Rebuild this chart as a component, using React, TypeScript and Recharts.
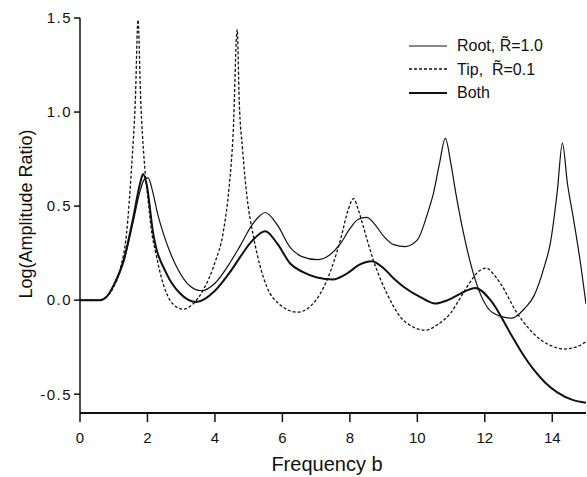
import { LineChart, Line, XAxis, YAxis, Label } from 'recharts';

// [frequency b, log(amplitude ratio)]
const rootPoints = [
  [0, 0], [0.6, 0], [0.8, 0.02], [1.0, 0.08], [1.29, 0.2], [1.58, 0.42], [1.78, 0.58], [1.9, 0.64],
  [2.02, 0.65], [2.15, 0.58], [2.3, 0.46], [2.47, 0.355], [2.87, 0.175], [3.26, 0.075], [3.6, 0.05],
  [4.0, 0.09], [4.45, 0.2], [4.75, 0.29], [5.1, 0.4], [5.34, 0.45], [5.49, 0.466], [5.85, 0.4],
  [6.23, 0.28], [6.6, 0.23], [7.03, 0.215], [7.4, 0.24], [7.72, 0.3], [8.0, 0.38], [8.25, 0.43],
  [8.5, 0.44], [8.75, 0.4], [9.0, 0.34], [9.3, 0.295], [9.65, 0.285], [10.0, 0.32], [10.3, 0.46],
  [10.48, 0.57], [10.65, 0.72], [10.83, 0.86], [11.0, 0.72], [11.13, 0.58], [11.37, 0.355],
  [11.77, 0.08], [12.26, -0.07], [12.8, -0.096], [13.2, -0.04], [13.45, 0.02], [13.75, 0.17],
  [13.95, 0.31], [14.15, 0.58], [14.3, 0.835], [14.45, 0.62], [14.64, 0.42], [14.85, 0.18], [15.0, -0.02],
];

const tipPoints = [
  [0, 0], [0.6, 0], [0.8, 0.02], [1.0, 0.07], [1.2, 0.17], [1.38, 0.355], [1.53, 0.71], [1.64, 1.06],
  [1.72, 1.49], [1.8, 1.06], [1.9, 0.75], [2.02, 0.53], [2.13, 0.355], [2.23, 0.265], [2.46, 0.09],
  [2.75, -0.02], [3.06, -0.048], [3.35, -0.02], [3.65, 0.053], [4.0, 0.2], [4.24, 0.355], [4.42, 0.6],
  [4.54, 0.885], [4.66, 1.44], [4.72, 1.06], [4.82, 0.8], [4.95, 0.55], [5.14, 0.34], [5.34, 0.18],
  [5.54, 0.07], [5.9, -0.02], [6.44, -0.064], [6.9, -0.02], [7.32, 0.106], [7.72, 0.32], [7.95, 0.48],
  [8.11, 0.54], [8.25, 0.48], [8.4, 0.39], [8.7, 0.21], [9.1, 0.035], [9.5, -0.09], [9.85, -0.14],
  [10.24, -0.16], [10.6, -0.13], [10.98, -0.07], [11.3, 0.02], [11.57, 0.097], [11.8, 0.15],
  [12.05, 0.17], [12.25, 0.14], [12.46, 0.09], [12.96, -0.07], [13.3, -0.15], [13.65, -0.21],
  [14.0, -0.245], [14.33, -0.26], [14.7, -0.25], [15.0, -0.22],
];

const bothPoints = [
  [0, 0], [0.6, 0], [0.8, 0.02], [1.0, 0.08], [1.29, 0.21], [1.58, 0.44], [1.78, 0.62], [1.87, 0.67],
  [1.97, 0.62], [2.17, 0.355], [2.57, 0.14], [2.97, 0.035], [3.45, -0.01], [4.0, 0.05], [4.45, 0.15],
  [4.75, 0.23], [5.1, 0.315], [5.49, 0.366], [5.85, 0.3], [6.23, 0.195], [6.6, 0.15], [7.03, 0.12],
  [7.5, 0.11], [7.9, 0.14], [8.3, 0.19], [8.65, 0.207], [9.0, 0.17], [9.3, 0.115], [9.6, 0.07],
  [10.09, 0.016], [10.53, -0.018], [10.9, 0.0], [11.28, 0.035], [11.72, 0.065], [12.17, 0.0],
  [12.76, -0.177], [13.1, -0.28], [13.45, -0.37], [13.8, -0.44], [14.15, -0.49], [14.6, -0.53], [15.0, -0.545],
];

const xTicks = [0, 2, 4, 6, 8, 10, 12, 14];
const yTicks = [-0.5, 0, 0.5, 1.0, 1.5];

const series = [
  { name: 'Root, R\u0303=1.0', points: rootPoints, width: 1.2, dash: undefined },
  { name: 'Tip,  R\u0303=0.1', points: tipPoints, width: 1.3, dash: '3 2' },
  { name: 'Both', points: bothPoints, width: 2, dash: undefined },
];

const font = '"Liberation Sans", Arial, Helvetica, sans-serif';
const ink = '#111';

const toRows = (pts: number[][]) => pts.map(([x, y]) => ({ x, y }));

export default function App() {
  return (
    <div style={{ position: 'absolute', left: 0, top: 0, width: 587, height: 477, background: '#fff', fontFamily: font }}>
      <LineChart width={587} height={477} margin={{ top: 18, right: 1, bottom: 0, left: 0 }}>
        <XAxis
          type="number"
          dataKey="x"
          domain={[0, 15]}
          ticks={xTicks}
          allowDataOverflow
          height={64}
          axisLine={{ stroke: ink, strokeWidth: 2 }}
          tickLine={{ stroke: ink, strokeWidth: 1.5 }}
          tickSize={9}
          tickMargin={10}
          tick={{ fontSize: 15, fill: ink, fontFamily: font }}
        >
          <Label value="Frequency b" position="insideBottom" offset={6} dx={-6}
            style={{ fontSize: 20, fill: ink, fontFamily: font }} />
        </XAxis>
        <YAxis
          type="number"
          domain={[-0.6, 1.5]}
          ticks={yTicks}
          allowDataOverflow
          width={80}
          axisLine={{ stroke: ink, strokeWidth: 1.5 }}
          tickLine={{ stroke: ink, strokeWidth: 1.5 }}
          tickSize={6}
          tickMargin={2}
          tickFormatter={(v: number) => v.toFixed(1)}
          tick={{ fontSize: 15, fill: ink, fontFamily: font, letterSpacing: 1.5 }}
        >
          <Label
            content={() => (
              <text x={26} y={214} transform="rotate(-90 26 214)" textAnchor="middle"
                dominantBaseline="central" fontSize={18} fill={ink} fontFamily={font}>
                Log(Amplitude Ratio)
              </text>
            )}
          />
        </YAxis>
        {series.map((s) => (
          <Line
            key={s.name}
            data={toRows(s.points)}
            dataKey="y"
            type="monotone"
            stroke={ink}
            strokeWidth={s.width}
            strokeDasharray={s.dash}
            dot={false}
            activeDot={false}
            isAnimationActive={false}
          />
        ))}
      </LineChart>
      <div style={{ position: 'absolute', left: 408, top: 34, fontSize: 16, color: ink, lineHeight: '23.5px' }}>
        {series.map((s) => (
          <div key={s.name} style={{ display: 'flex', alignItems: 'center', whiteSpace: 'pre' }}>
            <svg width={40} height={10} style={{ marginRight: 9 }}>
              <line x1={1} y1={5} x2={39} y2={5} stroke={ink} strokeWidth={s.width} strokeDasharray={s.dash} />
            </svg>
            <span>{s.name}</span>
          </div>
        ))}
      </div>
    </div>
  );
}
